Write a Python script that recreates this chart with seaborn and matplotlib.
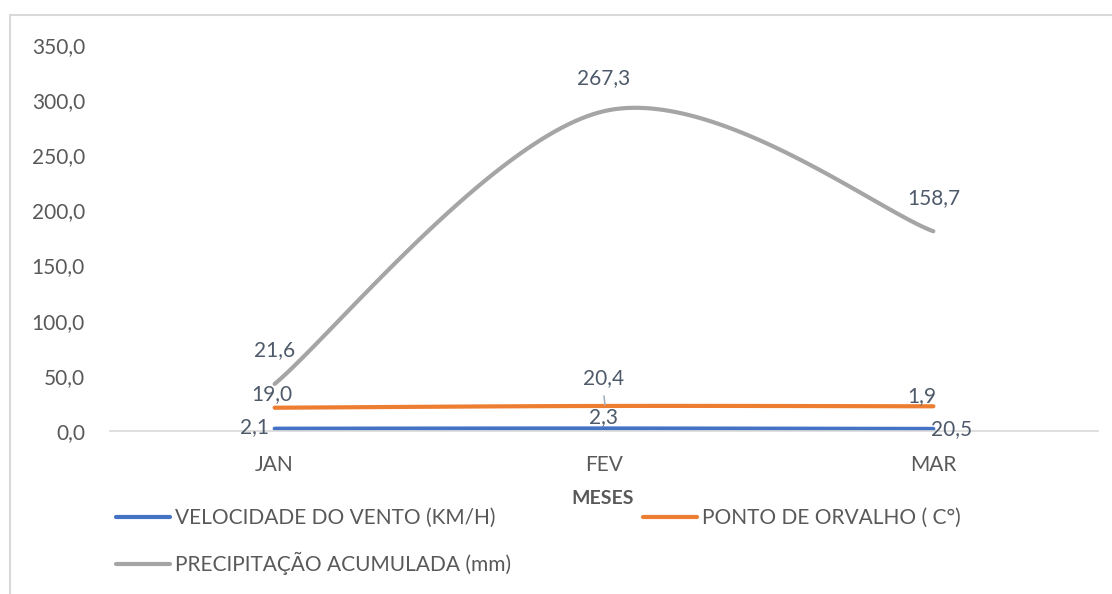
import numpy as np
import pandas as pd
import matplotlib
matplotlib.use("Agg")
import matplotlib.pyplot as plt
from matplotlib.lines import Line2D
import seaborn as sns

# ---- data ----
months = ["JAN", "FEV", "MAR"]
velocidade = [2.1, 2.3, 1.9]
orvalho = [19.0, 20.4, 20.5]
precipitacao = [21.6, 267.3, 158.7]
series_names = ["VELOCIDADE DO VENTO (KM/H)", "PONTO DE ORVALHO ( C°)", "PRECIPITAÇÃO ACUMULADA (mm)"]
yticks = [0, 50, 100, 150, 200, 250, 300, 350]

colors = ["#4472C4", "#ED7D31", "#A5A5A5"]
txt = "#595959"
lbl = "#4E5A6A"

sns.set_theme(style="white")
plt.rcParams["font.family"] = ["Lato", "DejaVu Sans"]

# stacked values (Excel stacked line)
vals = np.array([velocidade, orvalho, precipitacao])
stacked = np.cumsum(vals, axis=0)


def excel_smooth(y, n=60):
    x = np.arange(len(y), dtype=float)
    pts = np.column_stack([x, y])
    out = []
    for i in range(len(pts) - 1):
        p0 = pts[i]
        p3 = pts[i + 1]
        pm = pts[i - 1] if i > 0 else pts[i]
        pp = pts[i + 2] if i + 2 < len(pts) else pts[i + 1]
        c1 = p0 + (p3 - pm) / 6.0
        c2 = p3 - (pp - p0) / 6.0
        t = np.linspace(0, 1, n)[:, None]
        b = (1 - t) ** 3 * p0 + 3 * (1 - t) ** 2 * t * c1 + 3 * (1 - t) * t ** 2 * c2 + t ** 3 * p3
        out.append(b if i == 0 else b[1:])
    return np.vstack(out)


rows = []
for k, name in enumerate(series_names):
    curve = excel_smooth(stacked[k])
    for j, (xx, yy) in enumerate(curve):
        rows.append({"serie": name, "x": xx, "y": yy, "ord": j})
df = pd.DataFrame(rows)

fig = plt.figure(figsize=(11.12, 5.94), dpi=100)
ax = fig.add_axes([110 / 1112, 1 - 431 / 594, 988 / 1112, (431 - 45) / 594])

sns.lineplot(data=df, x="x", y="y", hue="serie", hue_order=series_names,
             palette=colors, sort=False, estimator=None, units="serie",
             linewidth=3, ax=ax, legend=False)

fs = 15
ax.set_xlim(-0.5, 2.5)
ax.set_ylim(0, 350)
ax.set_yticks(yticks)
ax.set_yticklabels([f"{v:.1f}".replace(".", ",") for v in yticks], color=txt, fontsize=fs)
ax.set_xticks(range(len(months)))
ax.set_xticklabels(months, color=txt, fontsize=fs)
ax.tick_params(axis="x", length=0, pad=17)
ax.tick_params(axis="y", length=0, pad=18)
for s in ["top", "right", "left"]:
    ax.spines[s].set_visible(False)
ax.spines["bottom"].set_color("#D9D9D9")
ax.spines["bottom"].set_linewidth(1.2)
ax.set_xlabel("")
ax.set_ylabel("")
ax.grid(False)


def fmt(v):
    return f"{v:.1f}".replace(".", ",")

# data labels (offsets in points)
for i in range(3):
    ax.annotate(fmt(precipitacao[i]), (i, stacked[2][i]), xytext=(0, 24), textcoords="offset points",
                ha="center", va="center", color=lbl, fontsize=fs)
ax.annotate(fmt(orvalho[0]), (0, stacked[1][0]), xytext=(-2, 10), textcoords="offset points",
            ha="center", va="center", color=lbl, fontsize=fs)
ax.annotate(fmt(orvalho[1]), (1, stacked[1][1]), xytext=(0, 20), textcoords="offset points",
            ha="center", va="center", color=lbl, fontsize=fs)
ax.plot([1, 1.003], [stacked[1][1] + 9, stacked[1][1] + 1], color="#A6B0BD", lw=1.2)
ax.annotate(fmt(velocidade[2]), (2, stacked[1][2]), xytext=(-8, 7), textcoords="offset points",
            ha="center", va="center", color=lbl, fontsize=fs)
ax.annotate(fmt(velocidade[0]), (0, stacked[0][0]), xytext=(-4, 1), textcoords="offset points",
            ha="right", va="center", color=lbl, fontsize=fs)
ax.annotate(fmt(velocidade[1]), (1, stacked[0][1]), xytext=(0, 8), textcoords="offset points",
            ha="center", va="center", color=lbl, fontsize=fs)
ax.annotate(fmt(orvalho[2]), (2, stacked[0][2]), xytext=(-2, 0), textcoords="offset points",
            ha="left", va="center", color=lbl, fontsize=fs)

fig.text(603 / 1112, 1 - 498 / 594, "MESES", ha="center", va="center", color=txt,
         fontsize=14, fontweight="bold")

# legend, row-wise order: col1 = vento, precipitacao ; col2 = orvalho
order = [0, 2, 1]
handles = [Line2D([], [], color=colors[k], lw=3) for k in order]
labels = [series_names[k] for k in order]
leg = fig.legend(handles, labels, loc="upper left", bbox_to_anchor=(116 / 1112, 1 - 508 / 594),
                 ncol=2, frameon=False, fontsize=fs, handlelength=2.6, handletextpad=0.25,
                 columnspacing=6.3, labelspacing=1.15, borderaxespad=0, borderpad=0)
for t in leg.get_texts():
    t.set_color(txt)

# outer chart frame
fig.add_artist(Line2D([10 / 1112, 1], [1 - 15 / 594, 1 - 15 / 594], color="#D9D9D9", lw=1.5))
fig.add_artist(Line2D([10 / 1112, 10 / 1112], [0, 1 - 15 / 594], color="#D9D9D9", lw=1.5))

fig.savefig("out.png", dpi=100, facecolor="white")
